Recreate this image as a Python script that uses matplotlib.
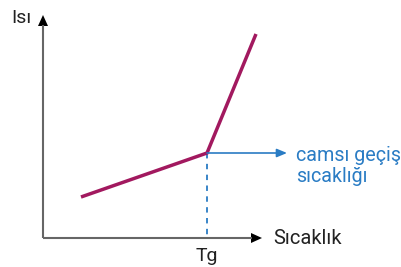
import matplotlib
matplotlib.use("Agg")
import matplotlib.pyplot as plt

plt.rcParams['font.family'] = ['Roboto', 'DejaVu Sans']

# curve points (pixel-like coordinates, y grows downward)
curve_x = [81, 207, 256]
curve_y = [197, 153, 34]
tg_x = 207
tg_y = 153
origin = (43, 238)
x_axis_end = 262
y_axis_end = 15

purple = '#a2195f'
blue = '#2a7cc4'
axis_gray = '#666666'
text_dark = '#222222'

fig = plt.figure(figsize=(4.02, 2.67), dpi=100)
ax = fig.add_axes([0, 0, 1, 1])
ax.set_xlim(0, 402)
ax.set_ylim(267, 0)
ax.axis('off')

# axes with arrowheads
ax.plot([origin[0], x_axis_end - 10], [origin[1], origin[1]], color=axis_gray, lw=1.5, solid_capstyle='butt')
ax.plot([origin[0], origin[0]], [origin[1], y_axis_end + 10], color=axis_gray, lw=1.5, solid_capstyle='butt')
ax.fill([x_axis_end - 11, x_axis_end, x_axis_end - 11], [origin[1] - 5, origin[1], origin[1] + 5], color='black', lw=0)
ax.fill([origin[0] - 5, origin[0], origin[0] + 5], [y_axis_end + 11, y_axis_end, y_axis_end + 11], color='black', lw=0)

# dashed line down to Tg
ax.plot([tg_x, tg_x], [tg_y, origin[1]], color=blue, lw=1.3, ls=(0, (3, 3)))

# arrow to the label
ax.annotate('', xy=(287, tg_y), xytext=(tg_x, tg_y),
            arrowprops=dict(arrowstyle='-|>,head_length=0.6,head_width=0.25', color=blue, lw=1.2,
                            shrinkA=0, shrinkB=0))

# the curve
ax.plot(curve_x, curve_y, color=purple, lw=2.5, solid_joinstyle='miter', solid_capstyle='butt')

# labels
ax.text(11, 18, 'Isı', fontsize=14, color=text_dark, ha='left', va='center')
ax.text(tg_x, 256, 'Tg', fontsize=14, color=text_dark, ha='center', va='center')
ax.text(273, 238, 'Sıcaklık', fontsize=14.5, color=text_dark, ha='left', va='center')
ax.text(296, 166, 'camsı geçiş\nsıcaklığı', fontsize=14.2, color=blue, ha='left', va='center',
        linespacing=1.15)

fig.savefig('out.png', dpi=100)
